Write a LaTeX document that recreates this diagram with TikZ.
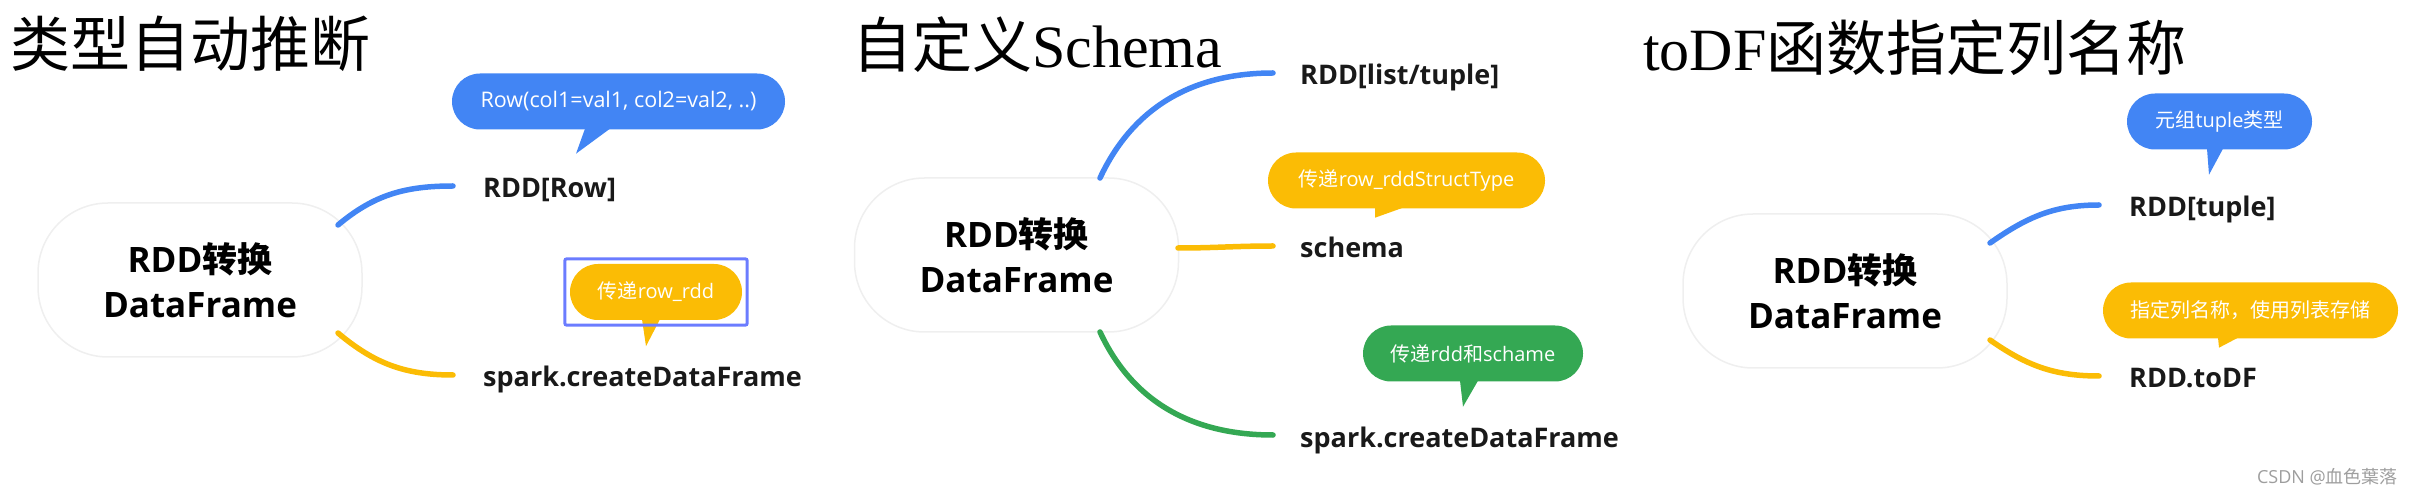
\documentclass[tikz,border=0pt]{standalone}
\usepackage{fontspec}
\setmainfont{Open Sans}
\newfontfamily\cjk{Noto Sans CJK SC}
\newfontfamily\titleserif{Liberation Serif}
\usetikzlibrary{calc,positioning,fit}
\definecolor{mmblue}{HTML}{4285F4}
\definecolor{mmyellow}{HTML}{FBBC05}
\definecolor{mmgreen}{HTML}{34A853}
\definecolor{selblue}{HTML}{6B7CFF}
\definecolor{boxgray}{HTML}{EFEFEF}
\newcommand{\bubtail}[5]{\fill[#1] ($(#2.south)+(#3,1)$) -- ($(#2.south)+(#4,1)$) -- ($(#2.south)+(#5)$) -- cycle;}

\begin{document}
\begin{tikzpicture}[
    x=1pt, y=1pt,
    every node/.style={inner sep=0pt},
    title/.style={anchor=base west, font=\fontsize{60}{60}\selectfont},
    rootbox/.style={draw=boxgray, line width=1.5pt, fill=white, rounded corners=70pt,
                    minimum width=324pt, minimum height=154pt, align=center,
                    font=\fontsize{35}{45}\selectfont\bfseries},
    leaf/.style={anchor=base west, font=\fontsize{27}{30}\selectfont\bfseries, text=black!90},
    bubble/.style={rounded corners=28pt, minimum height=56pt, text=white,
                   font=\fontsize{20}{24}\selectfont},
    branch/.style={line width=5.5pt, line cap=round},
    selbox/.style={draw=selblue, line width=3pt, rounded corners=2pt, inner sep=5pt}
  ]
  \useasboundingbox (0,0) rectangle (2414,490);

  % Left: type inference
  \node[title] (t1) at (10,423) {\cjk 类型自动推断};
  \node[rootbox] (r1) at (200,210) {RDD{\cjk 转换}\\DataFrame};
  \node[leaf] (l11) at (483,292) {RDD[Row]};
  \node[leaf] (l12) at (483,103) {spark.createDataFrame};
  \node[bubble, fill=mmblue, minimum width=333pt, font=\fontsize{21.5}{24}\selectfont] (b11) at (618.5,388.5) {Row(col1=val1, col2=val2, ..)};
  \node[bubble, fill=mmyellow, minimum width=172pt] (b12) at (656,198) {{\cjk 传递}row\_rdd};
  \bubtail{mmblue}{b11}{-33.5}{-8.5}{-42.5,-24}
  \bubtail{mmyellow}{b12}{-14}{4}{-10,-26}
  \node[selbox, fit=(b12)] (sel) {};
  \draw[branch, mmblue] ($(r1.center)+(138,55)$) to[out=40, in=180] ([shift={(-30,12)}]l11.base west);
  \draw[branch, mmyellow] ($(r1.center)+(138,-53)$) to[out=-40, in=180] ([shift={(-30,12)}]l12.base west);

  % Middle: own schema
  \node[title] (t2) at (852,422) {{\cjk 自定义}{\titleserif Schema}};
  \node[rootbox] (r2) at (1016.5,235) {RDD{\cjk 转换}\\DataFrame};
  \node[leaf] (l21) at (1300,405) {RDD[list/tuple]};
  \node[leaf] (l22) at (1300,232) {schema};
  \node[leaf] (l23) at (1300,43) {spark.createDataFrame};
  \node[bubble, fill=mmyellow, minimum width=277pt] (b21) at (1406.5,309.5) {{\cjk 传递}row\_rddStructType};
  \node[bubble, fill=mmgreen, minimum width=220pt] (b22) at (1473,136.5) {{\cjk 传递}rdd{\cjk 和}schame};
  \bubtail{mmyellow}{b21}{-31.5}{-3.5}{-31.5,-9}
  \bubtail{mmgreen}{b22}{-13}{5}{-10,-25}
  \draw[branch, mmblue] ($(r2.center)+(83.5,77)$) to[out=65, in=180] ([shift={(-27,12)}]l21.base west);
  \draw[branch, mmyellow] ($(r2.center)+(161.5,7)$) to[out=0, in=180] ([shift={(-27,12)}]l22.base west);
  \draw[branch, mmgreen] ($(r2.center)+(83.5,-77)$) to[out=-65, in=180] ([shift={(-27,12)}]l23.base west);

  % Right: toDF with column names
  \node[title] (t3) at (1643,419) {{\titleserif toDF}{\cjk 函数指定列名称}};
  \node[rootbox] (r3) at (1845,199) {RDD{\cjk 转换}\\DataFrame};
  \node[leaf] (l31) at (2129,273) {RDD[tuple]};
  \node[leaf] (l32) at (2129,102) {RDD.toDF};
  \node[bubble, fill=mmblue, minimum width=185pt] (b31) at (2219.5,368.5) {{\cjk 元组}tuple{\cjk 类型}};
  \node[bubble, fill=mmyellow, minimum width=295pt] (b32) at (2250.5,179.5) {\cjk 指定列名称，使用列表存储};
  \bubtail{mmblue}{b31}{-12.5}{3.5}{-10.5,-25}
  \bubtail{mmyellow}{b32}{-32.5}{-12.5}{-31.5,-9}
  \draw[branch, mmblue] ($(r3.center)+(145,48)$) to[out=35, in=180] ([shift={(-30,12)}]l31.base west);
  \draw[branch, mmyellow] ($(r3.center)+(145,-49)$) to[out=-35, in=180] ([shift={(-30,12)}]l32.base west);

  % watermark
  \node[anchor=base east, text=black!38, font=\fontsize{18}{20}\selectfont] (wm) at (2398,7) {CSDN @{\cjk 血色葉落}};
\end{tikzpicture}
\end{document}
